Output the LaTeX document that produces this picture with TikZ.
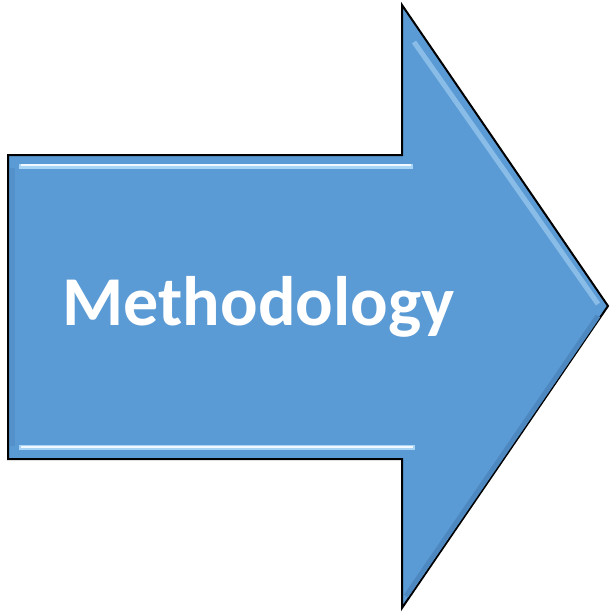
\documentclass[tikz,border=0pt]{standalone}
\usepackage{fontspec}
\setmainfont{Carlito}
\definecolor{methblue}{HTML}{5B9BD5}
\definecolor{shineblue}{HTML}{A8D4F5}
\definecolor{shadeblue}{HTML}{4E88C0}
\begin{document}
\begin{tikzpicture}[
    x=1pt, y=-1pt,
    arrowbody/.style={draw=black, line width=2pt, fill=methblue, line join=miter},
    shine/.style={draw=shineblue, line width=5pt},
    glint/.style={draw=white!85!shineblue, line width=1.5pt},
    shade/.style={draw=shadeblue, line width=5pt},
    methtext/.style={text=white, inner sep=0pt, font=\fontsize{70}{84}\selectfont\bfseries},
    ]
    \useasboundingbox (0,0) rectangle (610,613);
    % arrow outline
    \draw[arrowbody] (8,155) -- (402,155) -- (402,5) -- (608,306)
        -- (402,608) -- (402,459) -- (8,459) -- cycle;
    % bevel
    \draw[shade] (406,596) -- (598,316);
    \draw[shade, draw opacity=0.5] (12,446) -- (12,168);
    \draw[shine] (19,166) -- (413,166);
    \draw[glint] (21,165) -- (411,165);
    \draw[shine] (19,447) -- (415,447);
    \draw[glint] (21,447) -- (413,447);
    \draw[shine, draw opacity=0.6] (414,42) -- (598,304);
    \node[methtext, anchor=base] (meth) at (258.5,325) {Methodology};
\end{tikzpicture}
\end{document}
